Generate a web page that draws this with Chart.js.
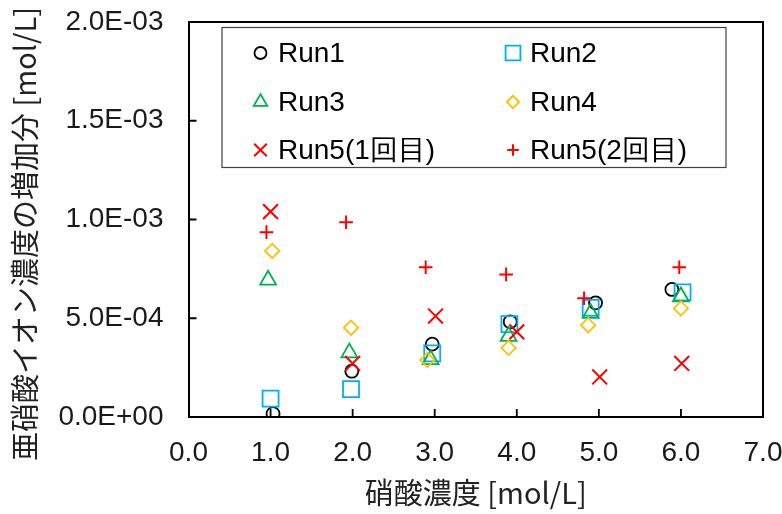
<!DOCTYPE html>
<html><head><meta charset="utf-8">
<script src="https://cdn.jsdelivr.net/npm/chart.js@4/dist/chart.umd.min.js"></script>
<style>html,body{margin:0;padding:0;background:#fff;}#wrap{width:782px;height:514px;position:relative;}</style>
</head><body>
<div id="wrap"><canvas id="c" width="782" height="514"></canvas></div>
<script>
// ---- data (x: 硝酸濃度 [mol/L], y: 亜硝酸イオン濃度の増加分 [mol/L]) ----
const seriesNames = ['Run1','Run2','Run3','Run4','Run5(1回目)','Run5(2回目)'];
const xTicks = [0,1,2,3,4,5,6,7];
const yTicks = [0, 0.0005, 0.0010, 0.0015, 0.0020];

const run1X = [1.03, 1.99, 2.97, 3.92, 4.96, 5.89];
const run1Y = [0.017e-3, 0.232e-3, 0.369e-3, 0.482e-3, 0.578e-3, 0.646e-3];
const run2X = [1.00, 1.98, 2.97, 3.91, 4.90, 6.02];
const run2Y = [0.093e-3, 0.141e-3, 0.322e-3, 0.470e-3, 0.553e-3, 0.631e-3];
const run3X = [0.97, 1.96, 2.95, 3.90, 4.90, 6.00];
const run3Y = [0.694e-3, 0.325e-3, 0.291e-3, 0.409e-3, 0.525e-3, 0.609e-3];
const run4X = [1.02, 1.98, 2.91, 3.90, 4.87, 6.00];
const run4Y = [0.841e-3, 0.452e-3, 0.288e-3, 0.350e-3, 0.465e-3, 0.550e-3];
const run5aX = [1.00, 2.00, 3.01, 4.00, 5.01, 6.01];
const run5aY = [1.040e-3, 0.271e-3, 0.511e-3, 0.431e-3, 0.203e-3, 0.271e-3];
const run5bX = [0.95, 1.92, 2.89, 3.87, 4.82, 5.98];
const run5bY = [0.936e-3, 0.986e-3, 0.758e-3, 0.722e-3, 0.601e-3, 0.758e-3];

const pts = (xs, ys) => xs.map((x, i) => ({x: x, y: ys[i]}));

const styles = [
  {pointStyle:'circle',   radius:6.5, color:'#000000', bw:1.8},
  {pointStyle:'rect',     radius:11.3, color:'#00B0F0', bw:1.8},
  {pointStyle:'triangle', radius:9.2, color:'#00B050', bw:1.8},
  {pointStyle:'rectRot',  radius:7.2, color:'#FFC000', bw:1.8},
  {pointStyle:'crossRot', radius:10.5, color:'#FF0000', bw:2},
  {pointStyle:'cross',    radius:6.8, color:'#FF0000', bw:2}
];
const allData = [pts(run1X,run1Y), pts(run2X,run2Y), pts(run3X,run3Y), pts(run4X,run4Y), pts(run5aX,run5aY), pts(run5bX,run5bY)];

const datasets = allData.map((d, i) => ({
  label: seriesNames[i],
  data: d,
  showLine: false,
  pointStyle: styles[i].pointStyle,
  pointRadius: styles[i].radius,
  pointHoverRadius: styles[i].radius,
  pointBorderColor: styles[i].color,
  pointBackgroundColor: 'rgba(0,0,0,0)',
  pointBorderWidth: styles[i].bw,
  order: 6 - i
}));

function fmtE(v) {
  const parts = Number(v).toExponential(1).split('e');
  const n = parseInt(parts[1], 10);
  return parts[0] + 'E' + (n < 0 ? '-' : '+') + String(Math.abs(n)).padStart(2, '0');
}

const TICK_FONT = "28px 'Liberation Sans', Arial, sans-serif";
const TITLE_FONT = "29px 'Noto Sans CJK JP', sans-serif";

const framePlugin = {
  id: 'frame',
  afterDraw(chart) {
    const ctx = chart.ctx, a = chart.chartArea;
    const xs = chart.scales.x, ys = chart.scales.y;
    ctx.save();
    ctx.strokeStyle = '#000'; ctx.lineWidth = 2;
    ctx.beginPath();
    ctx.moveTo(a.left, a.top); ctx.lineTo(a.right, a.top); ctx.lineTo(a.right, a.bottom);
    ctx.stroke();
    // inner ticks
    ctx.lineWidth = 1.8;
    ctx.beginPath();
    xTicks.forEach(v => { if (v > 0 && v < 7) { const px = xs.getPixelForValue(v); ctx.moveTo(px, a.bottom); ctx.lineTo(px, a.bottom - 8); } });
    yTicks.forEach(v => { if (v > 0 && v < 0.002) { const py = ys.getPixelForValue(v); ctx.moveTo(a.left, py); ctx.lineTo(a.left + 8, py); } });
    ctx.stroke();

    // legend box
    const L = {x: 222, y: 27.5, w: 504, h: 140};
    ctx.fillStyle = '#fff';
    ctx.fillRect(L.x, L.y, L.w, L.h);
    ctx.strokeStyle = '#404040'; ctx.lineWidth = 1.2;
    ctx.strokeRect(L.x, L.y, L.w, L.h);
    const colMarker = [260.5, 513], colText = [278, 530], rowY = [53, 102, 150];
    ctx.font = TICK_FONT; ctx.textBaseline = 'middle'; ctx.textAlign = 'left';
    seriesNames.forEach((name, i) => {
      const c = i % 2, r = Math.floor(i / 2);
      const s = styles[i];
      ctx.fillStyle = 'rgba(0,0,0,0)';
      ctx.strokeStyle = s.color; ctx.lineWidth = s.bw;
      const rad = s.pointStyle === 'rect' ? 10.5 : (s.pointStyle === 'circle' ? 6 : s.radius * 0.85);
      Chart.helpers.drawPoint(ctx, {pointStyle: s.pointStyle, radius: rad, rotation: 0, borderWidth: s.bw}, colMarker[c], rowY[r]);
      ctx.fillStyle = '#000';
      ctx.font = TICK_FONT; ctx.textBaseline = 'middle'; ctx.textAlign = 'left';
      ctx.fillText(name, colText[c], rowY[r] + 1);
    });

    // axis titles
    ctx.fillStyle = '#222';
    ctx.font = TITLE_FONT;
    ctx.textAlign = 'center'; ctx.textBaseline = 'middle';
    ctx.fillText('硝酸濃度 [mol/L]', (a.left + a.right) / 2, 493);
    ctx.translate(25, 234);
    ctx.rotate(-Math.PI / 2);
    ctx.fillText('亜硝酸イオン濃度の増加分 [mol/L]', 0, 0);
    ctx.restore();
  }
};

new Chart(document.getElementById('c'), {
  type: 'scatter',
  data: {datasets: datasets},
  options: {
    responsive: false,
    animation: false,
    devicePixelRatio: 1,
    layout: {padding: {top: 22, right: 19, left: 0, bottom: 0}},
    plugins: {legend: {display: false}, tooltip: {enabled: false}},
    scales: {
      x: {
        type: 'linear', min: 0, max: 7,
        afterBuildTicks: s => { s.ticks = xTicks.map(v => ({value: v})); },
        afterFit: s => { s.height = 97; s.paddingLeft = 0; s.paddingRight = 0; },
        grid: {display: false, drawTicks: false},
        border: {display: true, color: '#000', width: 2},
        ticks: {color: '#1a1a1a', font: {family: "'Liberation Sans', Arial, sans-serif", size: 28}, padding: 19, maxRotation: 0,
                callback: v => Number(v).toFixed(1)}
      },
      y: {
        type: 'linear', min: 0, max: 0.002,
        afterBuildTicks: s => { s.ticks = yTicks.map(v => ({value: v})); },
        afterFit: s => { s.width = 188.5; s.paddingTop = 0; s.paddingBottom = 0; },
        grid: {display: false, drawTicks: false},
        border: {display: true, color: '#000', width: 2},
        ticks: {color: '#1a1a1a', font: {family: "'Liberation Sans', Arial, sans-serif", size: 28}, padding: 25,
                callback: v => fmtE(v)}
      }
    }
  },
  plugins: [framePlugin]
});
</script>
</body></html>
